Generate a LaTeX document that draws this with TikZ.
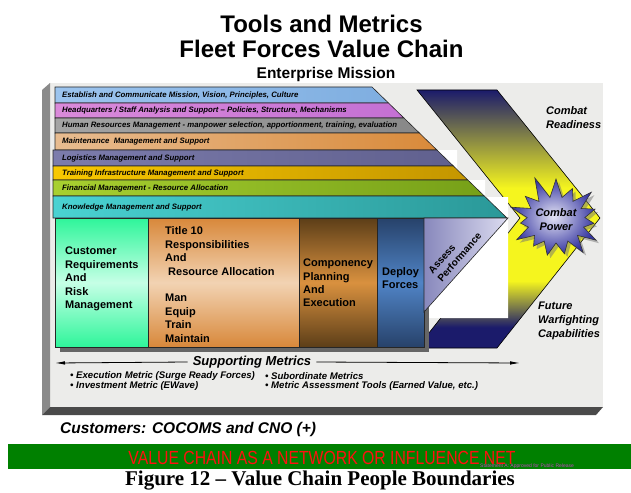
\documentclass[tikz,border=0pt]{standalone}
\usepackage{fontspec}
\setmainfont{Liberation Sans}
\newfontfamily\capserif{Liberation Serif}
\usetikzlibrary{shapes.symbols,shadows,arrows.meta}
\definecolor{panelgray}{HTML}{ECECEA}
\definecolor{bevelgray}{HTML}{8A8A8A}
\definecolor{beveldark}{HTML}{4A4A4A}
\definecolor{chevnavy}{HTML}{1B1B6B}
\definecolor{chevyellow}{HTML}{F5F51E}
\definecolor{vcgreen}{HTML}{008000}
\definecolor{vcred}{HTML}{FF1010}
\definecolor{vcmagenta}{HTML}{C040C0}
\definecolor{bAl}{HTML}{9CC4EE}\definecolor{bAr}{HTML}{7FAEE0}
\definecolor{bBl}{HTML}{DA8ADA}\definecolor{bBr}{HTML}{C470D4}
\definecolor{bCl}{HTML}{A4A4A4}\definecolor{bCr}{HTML}{888888}
\definecolor{bDl}{HTML}{E8BC90}\definecolor{bDr}{HTML}{D98A3A}
\definecolor{bEl}{HTML}{7C7CAC}\definecolor{bEr}{HTML}{60608E}
\definecolor{bFl}{HTML}{F8C800}\definecolor{bFr}{HTML}{C49600}
\definecolor{bGl}{HTML}{A8D030}\definecolor{bGr}{HTML}{76A018}
\definecolor{bHl}{HTML}{4AD2D2}\definecolor{bHr}{HTML}{2A9898}
\definecolor{custE}{HTML}{2EF59A}\definecolor{custM}{HTML}{C6FFE6}
\definecolor{titE}{HTML}{D8883A}\definecolor{titM}{HTML}{F2D3B3}
\definecolor{compE}{HTML}{5C3E18}\definecolor{compM}{HTML}{D9913F}
\definecolor{depE}{HTML}{27426A}\definecolor{depM}{HTML}{5084C6}
\definecolor{assL}{HTML}{8888BC}\definecolor{assR}{HTML}{DCDCF0}
\definecolor{burstIn}{HTML}{E4E4F4}\definecolor{burstOut}{HTML}{3434A0}
\pgfdeclareverticalshading{chevshade}{100bp}{color(0bp)=(chevnavy); color(25bp)=(chevnavy); color(29bp)=(chevnavy); color(38bp)=(chevyellow); color(56bp)=(chevyellow); color(75bp)=(chevnavy); color(100bp)=(chevnavy)}
\tikzset{
  bandtext/.style={anchor=west, inner sep=0pt, font=\bfseries\itshape\fontsize{7.8}{9}\selectfont},
  boxtext/.style={anchor=west, inner sep=0pt, align=left, font=\bfseries\fontsize{11}{13.4}\selectfont},
  sidetext/.style={anchor=west, inner sep=0pt, align=left, font=\bfseries\itshape\fontsize{11}{14}\selectfont},
  bullettext/.style={anchor=west, inner sep=0pt, font=\bfseries\itshape\fontsize{9.6}{10}\selectfont},
  bandline/.style={draw=black!85, line width=0.6pt},
  metricarrow/.style={-{Latex[length=10pt,width=3.5pt]}, line width=0.8pt},
  vshade/.style n args={2}{top color=#1, bottom color=#1, middle color=#2},
}
\newcommand\vcband[7]{%
  \shade[left color=#3, right color=#4, bandline] (#7,#1) -- ({372+(#1-87)*1.03},#1) -- ({372+(#2-87)*1.03},#2) -- (#7,#2) -- cycle;
  \node[bandtext] (#5) at (62,{(#1+#2)/2}) {#6};}
\begin{document}
\begin{tikzpicture}[x=1pt,y=-1pt]
\useasboundingbox (0,0) rectangle (631,492);
\fill[white] (0,0) rectangle (631,492);
% titles
\node[font=\bfseries\fontsize{24}{26}\selectfont, inner sep=0pt] (t1) at (321.5,24) {Tools and Metrics};
\node[font=\bfseries\fontsize{24}{26}\selectfont, inner sep=0pt] (t2) at (321.5,49) {Fleet Forces Value Chain};
\node[font=\bfseries\fontsize{15.5}{17}\selectfont, inner sep=0pt] (t3) at (326,74) {Enterprise Mission};
% panel
\fill[panelgray] (50,83) rectangle (603,407);
\fill[bevelgray] (42,90) -- (50,83) -- (50,407) -- (42,415) -- cycle;
\fill[beveldark] (42,415) -- (50,407) -- (603,407) -- (596,415) -- cycle;
% chevron
\shade[shading=chevshade, draw=black, line width=0.6pt] (417,90) -- (497,90) -- (600,218) -- (497,348) -- (417,348) -- (520,218) -- cycle;
% white paste area
\fill[white] (430,150) -- (457,150) -- (457,180) -- (485,180) -- (485,197) -- (508,197) -- (508,318) -- (424,318) -- (424,200) -- cycle;
% bands
\vcband{87}{103}{bAl}{bAr}{b1}{Establish and Communicate Mission, Vision, Principles, Culture}{55}
\vcband{103}{118}{bBl}{bBr}{b2}{Headquarters / Staff Analysis and Support – Policies, Structure, Mechanisms}{55}
\vcband{118}{133}{bCl}{bCr}{b3}{Human Resources Management - manpower selection, apportionment, training, evaluation}{55}
\vcband{133}{150}{bDl}{bDr}{b4}{Maintenance\ \ Management and Support}{55}
\vcband{150}{166}{bEl}{bEr}{b5}{Logistics Management and Support}{53}
\vcband{166}{180}{bFl}{bFr}{b6}{Training Infrastructure Management and Support}{53}
\vcband{180}{196}{bGl}{bGr}{b7}{Financial Management - Resource Allocation}{53}
\vcband{196}{218}{bHl}{bHr}{b8}{Knowledge Management and Support}{53}
% lower boxes
\fill[black!60] (60,223) rectangle (429,352);
\shade[vshade={custE}{custM}, bandline] (55,218) rectangle (148,347);
\shade[vshade={titE}{titM}, bandline] (148,218) rectangle (299,347);
\shade[vshade={compE}{compM}, bandline] (299,218) rectangle (377,347);
\shade[vshade={depE}{depM}, bandline] (377,218) rectangle (424,347);
\shade[left color=assL, right color=assR, bandline] (424,218) -- (508,218) -- (424,312) -- cycle;
\node[boxtext] (cust) at (65,279) {Customer\\Requirements\\And\\Risk\\Management};
\node[boxtext] (title10) at (165,284.5) {Title 10\\Responsibilities\\And\\\hspace*{3pt}Resource Allocation\\[13.4pt]Man\\Equip\\Train\\Maintain};
\node[boxtext] (comp) at (303,283) {Componency\\Planning\\And\\Execution};
\node[boxtext] (deploy) at (382,278) {Deploy\\Forces};
\node[rotate=49, align=left, inner sep=0pt, font=\bfseries\fontsize{10}{12}\selectfont] (assess) at (455,253) {Assess\\Performance};
% starburst
\node[starburst, starburst points=15, starburst point height=24pt, random starburst=11,
      minimum width=90pt, minimum height=94pt, draw=black!80, line width=0.6pt,
      inner color=burstIn, outer color=burstOut,
      drop shadow={shadow xshift=3pt, shadow yshift=-3pt, fill=black!55},
      align=center, inner sep=0pt, font=\bfseries\itshape\fontsize{11}{14}\selectfont] (burst) at (556,220) {Combat\\Power};
% side texts
\node[sidetext] (ready) at (546,118) {Combat\\Readiness};
\node[sidetext] (future) at (538,321) {Future\\Warfighting\\Capabilities};
% supporting metrics
\coordinate (smL) at (55,363);
\coordinate (smR) at (520,363);
\node[font=\bfseries\itshape\fontsize{13}{15}\selectfont, inner sep=5pt] (sm) at (252,362) {Supporting Metrics};
\draw[metricarrow] (sm.west) -- (smL);
\draw[metricarrow] (sm.east) -- (smR);
\node[bullettext] (m1) at (70,376) {• Execution Metric (Surge Ready Forces)};
\node[bullettext] (m2) at (70,386) {• Investment Metric (EWave)};
\node[bullettext] (m3) at (265,376) {• Subordinate Metrics};
\node[bullettext] (m4) at (265,386) {• Metric Assessment Tools (Earned Value, etc.)};
% customers
\node[anchor=west, inner sep=0pt, font=\bfseries\itshape\fontsize{15.5}{17}\selectfont] (customers) at (60,429) {Customers: COCOMS and CNO (+)};
% green bar
\fill[vcgreen] (8,444) rectangle (631,469);
\node[text=vcred, inner sep=0pt, font=\fontsize{19}{20}\selectfont] (net) at (322,458) {\scalebox{0.83}[1]{VALUE CHAIN AS A NETWORK OR INFLUENCE NET}};
\node[text=vcmagenta, anchor=west, inner sep=0pt, font=\fontsize{5}{6}\selectfont] (stmt) at (480,466) {Statement A: Approved for Public Release};
% caption
\node[font=\capserif\bfseries\fontsize{21}{23}\selectfont, inner sep=0pt] (caption) at (320,481) {Figure 12 – Value Chain People Boundaries};
\end{tikzpicture}
\end{document}
